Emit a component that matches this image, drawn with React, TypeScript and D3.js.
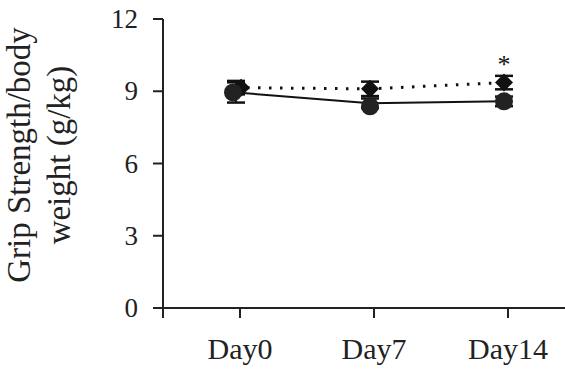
import React, { useEffect, useRef } from 'react';
import * as d3 from 'd3';

const days = ['Day0', 'Day7', 'Day14'];
const yTicks = [0, 3, 6, 9, 12];

// solid line, filled circles
const circleMean = [8.95, 8.5, 8.58];
const circleErr = [0.42, 0.2, 0.2];

// dotted line, diamonds
const diamondMean = [9.15, 9.1, 9.36];
const diamondErr = [0.28, 0.3, 0.28];

const starred = ['Day14'];

const App = () => {
  const svgRef = useRef<SVGSVGElement>(null);

  useEffect(() => {
    const W = 565;
    const H = 369;
    const left = 163;
    const top = 19;
    const bottom = 308;

    const svg = d3.select(svgRef.current).attr('width', W).attr('height', H);
    svg.selectAll('*').remove();

    const font = '"Liberation Serif", "DejaVu Serif", serif';

    const x = d3.scalePoint<string>().domain(days).range([240, 508]);
    const y = d3.scaleLinear().domain([0, 12]).range([bottom, top]);
    const shift = -4; // markers sit a bit left of the ticks

    // axes
    const g = svg.append('g').attr('font-family', font).attr('fill', '#222');

    g.append('line')
      .attr('x1', left).attr('x2', left)
      .attr('y1', top).attr('y2', bottom + 10)
      .attr('stroke', '#222').attr('stroke-width', 2);
    g.append('line')
      .attr('x1', left).attr('x2', W)
      .attr('y1', bottom).attr('y2', bottom)
      .attr('stroke', '#222').attr('stroke-width', 2);

    yTicks.forEach(t => {
      g.append('line')
        .attr('x1', left - 10).attr('x2', left)
        .attr('y1', y(t)).attr('y2', y(t))
        .attr('stroke', '#222').attr('stroke-width', 2);
      g.append('text')
        .attr('x', 138).attr('y', y(t))
        .attr('dy', '0.34em')
        .attr('text-anchor', 'end')
        .attr('font-size', 27)
        .text(t);
    });

    days.forEach(d => {
      g.append('line')
        .attr('x1', x(d)!).attr('x2', x(d)!)
        .attr('y1', bottom).attr('y2', bottom + 10)
        .attr('stroke', '#222').attr('stroke-width', 2);
      g.append('text')
        .attr('x', x(d)!).attr('y', 359)
        .attr('text-anchor', 'middle')
        .attr('font-size', 30)
        .text(d);
    });

    // y title
    const title = g.append('text')
      .attr('transform', 'translate(0,155) rotate(-90)')
      .attr('text-anchor', 'middle')
      .attr('font-size', 33);
    title.append('tspan').attr('x', 0).attr('y', 30).text('Grip Strength/body');
    title.append('tspan').attr('x', 0).attr('y', 70).text('weight (g/kg)');

    const px = (i: number) => x(days[i])! + shift;

    // dotted series
    const line = d3.line<number>().x((_, i) => px(i)).y(v => y(v));
    svg.append('path')
      .datum(diamondMean)
      .attr('d', line)
      .attr('fill', 'none')
      .attr('stroke', '#111')
      .attr('stroke-width', 3)
      .attr('stroke-dasharray', '2.5,8.5');

    svg.append('path')
      .datum(circleMean)
      .attr('d', line)
      .attr('fill', 'none')
      .attr('stroke', '#111')
      .attr('stroke-width', 2);

    const errBars = (means: number[], errs: number[]) => {
      means.forEach((m, i) => {
        const cx = px(i);
        svg.append('line')
          .attr('x1', cx).attr('x2', cx)
          .attr('y1', y(m + errs[i])).attr('y2', y(m - errs[i]))
          .attr('stroke', '#111').attr('stroke-width', 2);
        [m + errs[i], m - errs[i]].forEach(v => {
          svg.append('line')
            .attr('x1', cx - 9).attr('x2', cx + 9)
            .attr('y1', y(v)).attr('y2', y(v))
            .attr('stroke', '#111').attr('stroke-width', 2.5);
        });
      });
    };

    errBars(diamondMean, diamondErr);
    diamondMean.forEach((m, i) => {
      const cx = px(i) + (i === 0 ? 5 : 0);
      const cy = y(m);
      svg.append('path')
        .attr('d', `M${cx},${cy - 9}L${cx + 9},${cy}L${cx},${cy + 9}L${cx - 9},${cy}Z`)
        .attr('fill', '#111');
    });

    errBars(circleMean, circleErr);
    circleMean.forEach((m, i) => {
      svg.append('circle')
        .attr('cx', px(i) - (i === 0 ? 3 : 0))
        .attr('cy', y(m) + (i === 1 ? 3 : 0))
        .attr('r', 9)
        .attr('fill', '#222');
    });

    starred.forEach(d => {
      const i = days.indexOf(d);
      svg.append('text')
        .attr('x', px(i))
        .attr('y', y(diamondMean[i] + diamondErr[i]) - 3)
        .attr('text-anchor', 'middle')
        .attr('font-family', font)
        .attr('font-size', 26)
        .attr('fill', '#111')
        .text('*');
    });
  }, []);

  return <svg ref={svgRef} style={{ position: 'absolute', left: 0, top: 0 }}></svg>;
};

export default App;
